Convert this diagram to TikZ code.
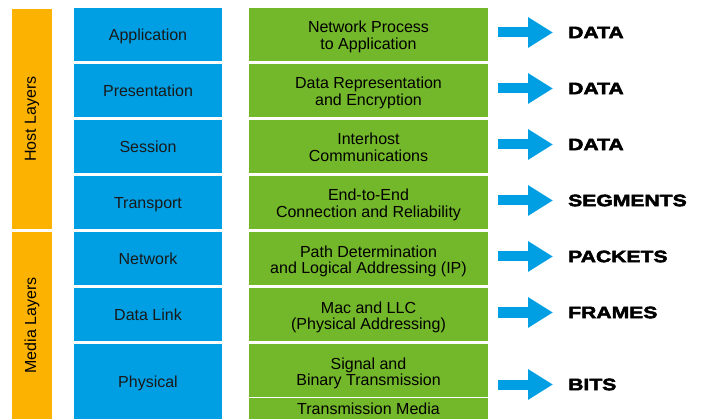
\documentclass[tikz,border=0pt]{standalone}
\usepackage{fontspec}
\setmainfont{Liberation Sans}
\newfontfamily\tagfont[FakeStretch=1.28,FakeBold=3]{Liberation Sans}
\usetikzlibrary{arrows.meta}
\definecolor{hostorange}{RGB}{252,178,0}
\definecolor{layerblue}{RGB}{0,159,227}
\definecolor{funcgreen}{RGB}{115,183,42}

\begin{document}
\begin{tikzpicture}[x=1pt, y=-1pt, node distance={56pt}, font=\fontsize{16}{16.5}\selectfont,
  group/.style = {fill=hostorange, rotate=90, minimum height=40pt, inner sep=0pt},
  layer/.style = {fill=layerblue, text=black!90, minimum width=148pt, minimum height=53pt, inner sep=0pt, text height=11.5pt, text depth=0pt},
  func/.style = {fill=funcgreen, align=center, minimum width=239pt, minimum height=53pt, inner sep=0pt, text height=30pt, text depth=0pt},
  unit/.style = {font=\tagfont\bfseries\fontsize{16.5}{18}\selectfont, anchor=west, inner sep=0pt},
  flow/.style = {draw=layerblue, line width=10pt, -{Triangle[length=25pt,width=29pt]}}]
                  \useasboundingbox (0,0) rectangle (706,419);
                  \node[group, minimum width=220pt] (host) at (32,119) {Host Layers};
                  \node[group, minimum width=187pt] (media) at (32,325.5) {Media Layers};
                  \node[layer] (1) at (148,34.5) {Application};
                  \node[layer] (2) [below of=1] {Presentation};
                  \node[layer] (3) [below of=2] {Session};
                  \node[layer] (4) [below of=3] {Transport};
                  \node[layer] (5) [below of=4] {Network};
                  \node[layer] (6) [below of=5] {Data Link};
                  \node[layer, minimum height=75pt] (7) [below of=6, node distance=67pt] {Physical};
                  \node[func] (a) [right of=1, node distance=220.5pt] {Network Process\\to Application};
                  \node[func] (b) [below of=a] {Data Representation\\and Encryption};
                  \node[func] (c) [below of=b] {Interhost\\Communications};
                  \node[func] (d) [below of=c] {End-to-End\\Connection and Reliability};
                  \node[func] (e) [below of=d] {Path Determination\\and Logical Addressing (IP)};
                  \node[func] (f) [below of=e] {Mac and LLC\\(Physical Addressing)};
                  \node[func] (g) [below of=f] {Signal and\\Binary Transmission};
                  \node[func, minimum height=21pt, text height=11.5pt, text depth=0pt] (h) [below of=g, node distance=38pt] {Transmission Media};
                  \node[unit] (u1) at (568,32.5) {DATA};
                  \node[unit] (u2) at (568,88.5) {DATA};
                  \node[unit] (u3) at (568,144.5) {DATA};
                  \node[unit] (u4) at (568,200.5) {SEGMENTS};
                  \node[unit] (u5) at (568,256.5) {PACKETS};
                  \node[unit] (u6) at (568,312.5) {FRAMES};
                  \node[unit] (u7) at (568,384.5) {BITS};
                  \draw[flow] ([xshift=10pt]a.east |- u1.west) -- ([xshift=-15pt]u1.west);
                  \draw[flow] ([xshift=10pt]b.east |- u2.west) -- ([xshift=-15pt]u2.west);
                  \draw[flow] ([xshift=10pt]c.east |- u3.west) -- ([xshift=-15pt]u3.west);
                  \draw[flow] ([xshift=10pt]d.east |- u4.west) -- ([xshift=-15pt]u4.west);
                  \draw[flow] ([xshift=10pt]e.east |- u5.west) -- ([xshift=-15pt]u5.west);
                  \draw[flow] ([xshift=10pt]f.east |- u6.west) -- ([xshift=-15pt]u6.west);
                  \draw[flow] ([xshift=10pt]g.east |- u7.west) -- ([xshift=-15pt]u7.west);
              \end{tikzpicture}
\end{document}
